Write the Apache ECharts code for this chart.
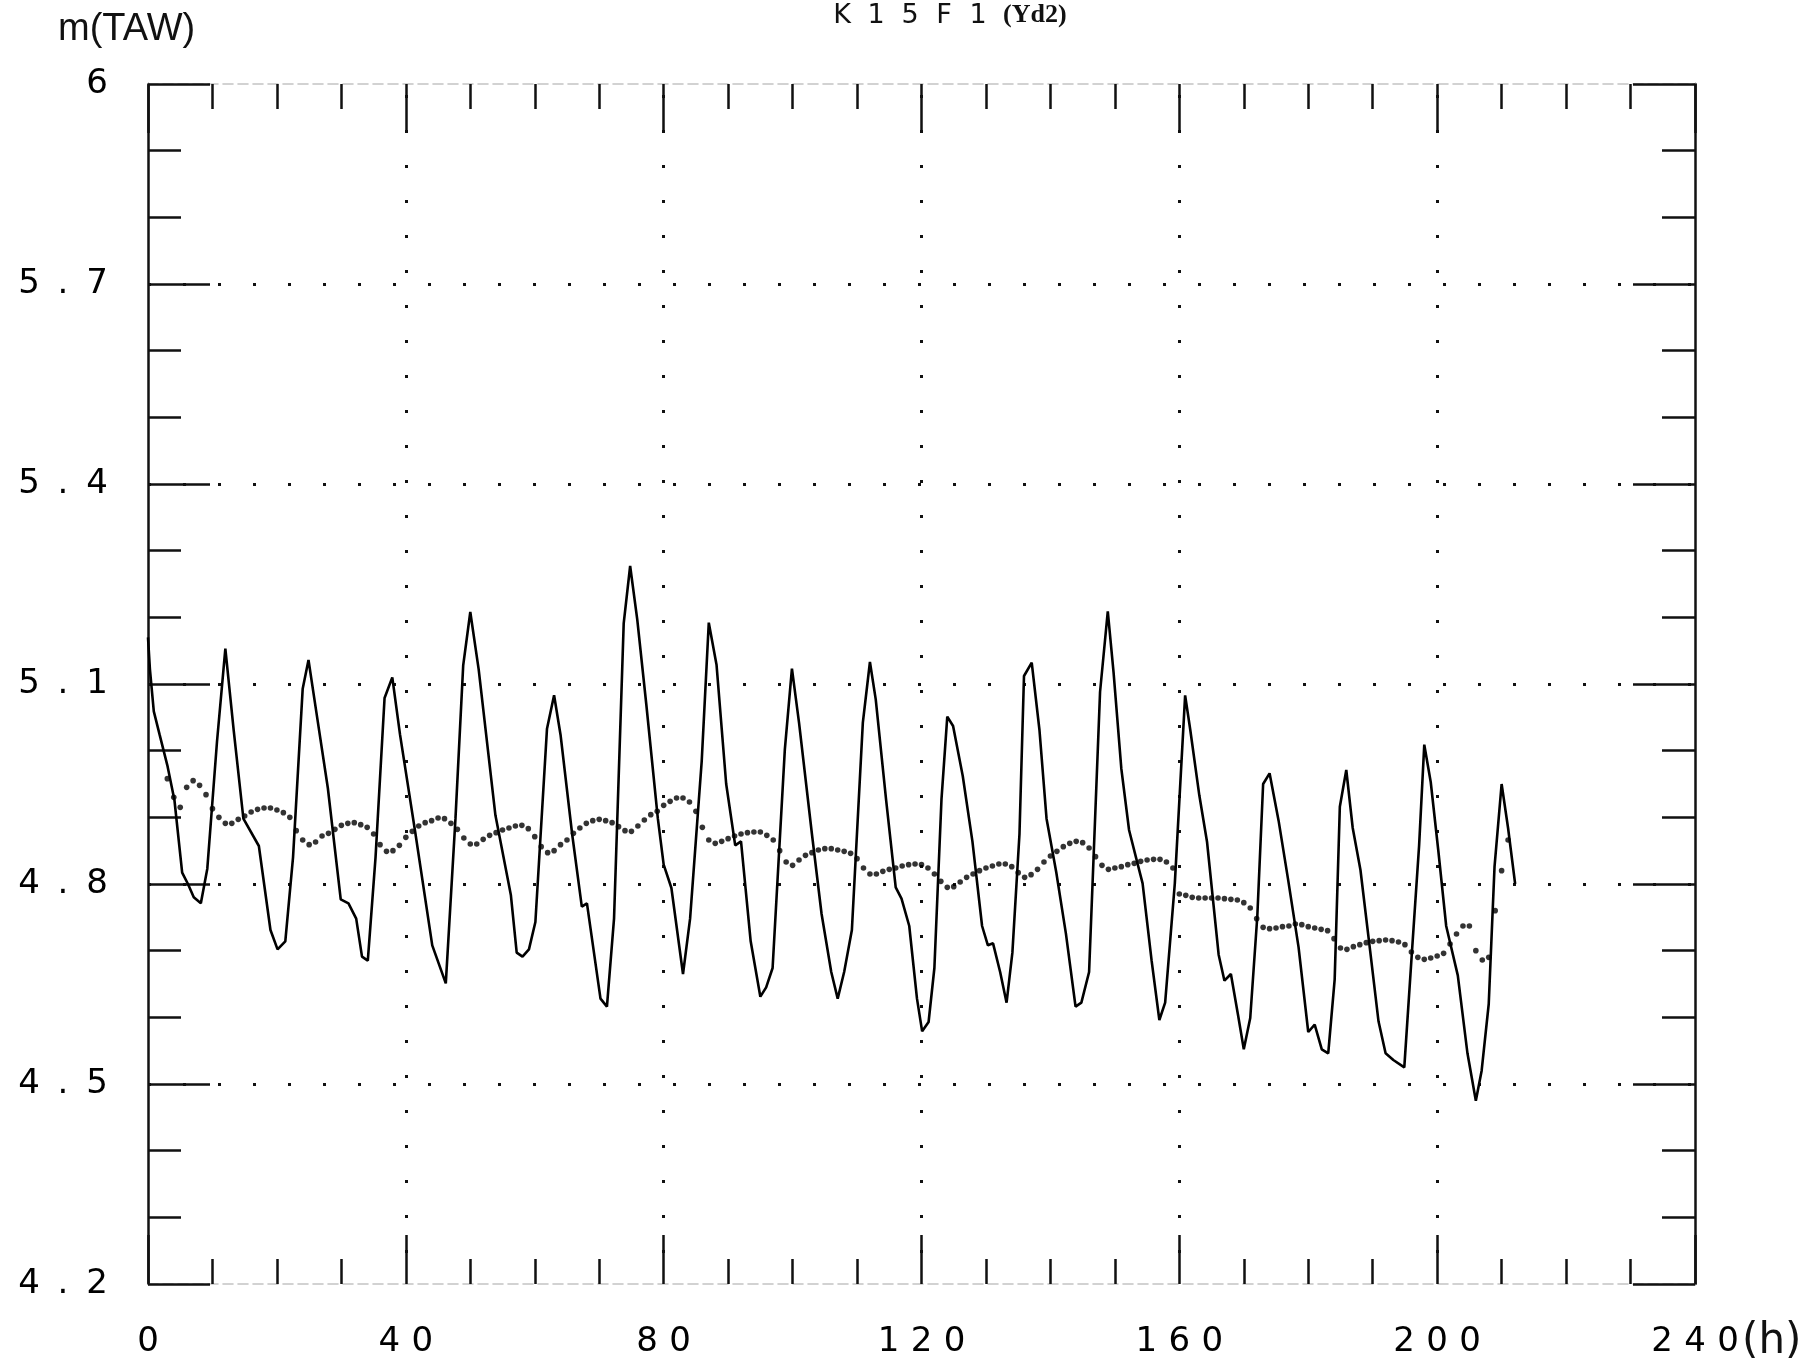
<!DOCTYPE html>
<html>
<head>
<meta charset="utf-8">
<script src="https://cdn.jsdelivr.net/npm/echarts@6/dist/echarts.min.js"></script>
<style>
html,body{margin:0;padding:0;background:#fff;}
#chart{width:1811px;height:1367px;}
</style>
</head>
<body>
<div id="chart"></div>
<script>
// Solid line: water level m(TAW) vs time (h)
const lineT = [0,0.3,0.9,1.8,3.0,4.1,5.3,6.2,7.1,8.2,9.2,10.7,12.0,13.3,14.8,17.2,19.0,20.1,21.3,22.5,24.0,24.9,26.1,27.9,29.9,31.1,32.3,33.2,34.1,35.3,36.7,37.9,39.1,41.5,44.1,46.2,47.7,48.9,50.0,51.3,53.9,56.3,57.2,58.1,59.1,60.1,61.9,63.0,64.0,65.8,67.3,68.1,70.2,71.2,72.3,73.8,74.8,75.9,77.3,79.1,80.0,81.2,83.0,84.1,85.9,87.0,88.2,89.7,91.1,92.0,93.5,95.0,95.9,96.9,98.8,99.9,101.0,103.0,104.5,106.0,107.0,108.0,109.2,110.9,112.0,112.9,114.5,116.0,116.9,118.1,119.3,120.1,121.1,122.0,123.1,124.0,124.9,126.4,127.9,129.4,130.3,131.1,132.2,133.2,134.1,135.2,135.9,137.1,138.3,139.4,140.9,142.4,143.9,144.8,146.0,147.7,148.9,149.8,151.0,152.2,153.4,154.3,155.7,156.9,157.8,159.3,160.9,161.7,163.1,164.3,166.1,167.0,168.0,169.1,170.0,171.0,172.1,173.0,174.0,175.4,176.9,178.5,180.0,181.0,182.1,183.1,184.1,184.9,185.9,186.9,188.1,189.6,190.9,192.0,193.2,194.9,196.1,197.2,198.0,199.0,200.2,201.4,203.2,204.7,206.0,206.9,208.0,208.9,210.0,211.0,212.1];
const lineV = [5.170,5.122,5.059,5.024,4.978,4.926,4.817,4.800,4.780,4.771,4.823,5.013,5.153,5.030,4.898,4.857,4.731,4.702,4.714,4.840,5.093,5.136,5.059,4.944,4.777,4.771,4.748,4.691,4.685,4.840,5.079,5.110,5.024,4.875,4.708,4.651,4.898,5.128,5.208,5.122,4.903,4.783,4.697,4.691,4.702,4.743,5.033,5.083,5.024,4.875,4.766,4.771,4.628,4.616,4.748,5.191,5.277,5.197,5.070,4.898,4.829,4.794,4.665,4.748,4.984,5.192,5.129,4.950,4.858,4.864,4.714,4.631,4.645,4.674,5.002,5.123,5.042,4.875,4.755,4.668,4.628,4.668,4.731,5.042,5.133,5.077,4.927,4.795,4.778,4.737,4.628,4.579,4.593,4.674,4.927,5.051,5.037,4.962,4.864,4.737,4.708,4.711,4.668,4.622,4.697,4.875,5.112,5.132,5.031,4.898,4.818,4.726,4.616,4.622,4.668,5.088,5.209,5.117,4.973,4.881,4.835,4.801,4.685,4.596,4.622,4.801,5.083,5.031,4.933,4.863,4.694,4.655,4.665,4.604,4.552,4.599,4.752,4.950,4.966,4.895,4.805,4.705,4.578,4.589,4.552,4.546,4.657,4.916,4.971,4.884,4.821,4.700,4.594,4.546,4.536,4.525,4.700,4.858,5.009,4.953,4.848,4.737,4.663,4.546,4.475,4.520,4.620,4.826,4.950,4.884,4.800];

// Dotted series: hourly values starting at hour 3
const dotStartHour = 3;
const dotV = [4.958,4.930,4.915,4.945,4.955,4.948,4.934,4.913,4.900,4.891,4.891,4.897,4.902,4.908,4.912,4.914,4.914,4.911,4.907,4.900,4.880,4.866,4.859,4.863,4.872,4.876,4.882,4.888,4.891,4.892,4.889,4.885,4.875,4.859,4.849,4.850,4.858,4.870,4.879,4.887,4.892,4.895,4.899,4.898,4.891,4.882,4.869,4.860,4.860,4.867,4.873,4.877,4.881,4.884,4.887,4.888,4.883,4.871,4.856,4.847,4.850,4.859,4.866,4.876,4.884,4.891,4.895,4.897,4.895,4.892,4.886,4.880,4.879,4.887,4.896,4.904,4.909,4.918,4.924,4.929,4.929,4.923,4.909,4.885,4.866,4.861,4.864,4.868,4.872,4.875,4.877,4.878,4.878,4.873,4.866,4.850,4.833,4.828,4.836,4.843,4.847,4.851,4.853,4.853,4.851,4.849,4.846,4.838,4.824,4.815,4.815,4.819,4.822,4.824,4.827,4.829,4.830,4.829,4.824,4.815,4.804,4.795,4.796,4.803,4.810,4.815,4.820,4.824,4.827,4.830,4.830,4.826,4.817,4.810,4.814,4.822,4.833,4.842,4.849,4.856,4.861,4.864,4.862,4.854,4.841,4.828,4.822,4.824,4.826,4.829,4.831,4.834,4.836,4.837,4.837,4.833,4.824,4.785,4.783,4.780,4.779,4.779,4.779,4.779,4.778,4.777,4.776,4.772,4.764,4.748,4.735,4.733,4.734,4.736,4.737,4.740,4.739,4.736,4.734,4.732,4.730,4.718,4.704,4.702,4.706,4.709,4.712,4.714,4.715,4.716,4.715,4.713,4.709,4.698,4.690,4.687,4.689,4.692,4.696,4.710,4.725,4.737,4.737,4.700,4.686,4.690,4.760,4.820,4.866];

// Axis ranges / tick steps
const xMin = 0, xMax = 240, xStep = 40;
const yMin = 4.2, yMax = 6, yStep = 0.3;

const titleText = 'K15F1';
const titleSub = '(Yd2)';
const yName = 'm(TAW)';
const xUnit = '(h)';

function spaced(s){ return String(s).split('').map(c => '{c|' + c + '}').join(''); }
function cellRich(w, fs){ return { c: { width: w, align: 'center', fontSize: fs, fontWeight: 'normal', fontFamily: 'DejaVu Sans', color: '#000' } }; }

const chart = echarts.init(document.getElementById('chart'));

const dotted = { color: '#111', width: 3, type: [3, 32] };
const tickStyle = { color: '#111', width: 2.5 };
const faintLine = { color: '#c4c4c4', width: 1.6, type: [10, 5] };

function xAxisDef(pos, withLabels){
  return {
    type: 'value', position: pos, min: xMin, max: xMax, interval: xStep,
    axisLine: { show: true, onZero: false, lineStyle: faintLine },
    axisTick: { show: true, inside: true, length: 49, lineStyle: tickStyle },
    minorTick: { show: true, splitNumber: 4, length: 25, lineStyle: tickStyle },
    axisLabel: withLabels ? {
      show: true, margin: 41,
      formatter: v => spaced(Math.round(v)),
      rich: cellRich(33, 34)
    } : { show: false },
    splitLine: withLabels ? { show: true, showMinLine: false, showMaxLine: false,
      lineStyle: Object.assign({}, dotted, { dashOffset: 24 }) } : { show: false }
  };
}
function yAxisDef(pos, withLabels){
  return {
    type: 'value', position: pos, min: yMin, max: yMax, interval: yStep,
    axisLine: { show: true, onZero: false, lineStyle: { color: '#111', width: 2.5 } },
    axisTick: { show: true, inside: true, length: 62, lineStyle: tickStyle },
    minorTick: { show: true, splitNumber: 3, length: 33, lineStyle: tickStyle },
    axisLabel: withLabels ? {
      show: true, margin: 34,
      formatter: v => spaced(Math.round(v * 10) / 10),
      rich: cellRich(34, 34)
    } : { show: false },
    splitLine: withLabels ? { show: true, showMinLine: false, showMaxLine: false, lineStyle: dotted } : { show: false }
  };
}

const lineData = lineT.map((t, i) => [t, lineV[i]]);
const dotData = dotV.map((v, i) => [dotStartHour + i, v]);

chart.setOption({
  backgroundColor: '#ffffff',
  animation: false,
  title: [
    { text: yName, left: 53, top: 6,
      textStyle: { fontFamily: 'Liberation Sans', fontSize: 38, fontWeight: 'normal', color: '#111' } },
    { text: spaced(titleText) + '{s|' + titleSub + '}', left: 820, top: -3,
      textStyle: { fontWeight: 'normal', rich: {
        c: { width: 34, align: 'center', fontSize: 27, fontWeight: 'normal', fontFamily: 'DejaVu Sans', color: '#111' },
        s: { fontSize: 26, fontFamily: 'Liberation Serif', fontWeight: 'bold', color: '#111', padding: [0,0,0,8] }
      } } },
    { text: xUnit, left: 1737, top: 1316,
      textStyle: { fontFamily: 'DejaVu Sans', fontSize: 42, fontWeight: 'normal', color: '#111' } }
  ],
  grid: { left: 148, right: 116, top: 84, bottom: 83, containLabel: false },
  xAxis: [ xAxisDef('bottom', true), xAxisDef('top', false) ],
  yAxis: [ yAxisDef('left', true), yAxisDef('right', false) ],
  series: [
    { type: 'line', xAxisIndex: 0, yAxisIndex: 0, data: lineData, symbol: 'none', showSymbol: false,
      lineStyle: { color: '#000', width: 2.6 }, silent: true, z: 3 },
    { type: 'scatter', xAxisIndex: 0, yAxisIndex: 0, data: dotData, symbol: 'circle', symbolSize: 5.6,
      itemStyle: { color: '#000' }, silent: true, z: 4 }
  ]
});
</script>
</body>
</html>
